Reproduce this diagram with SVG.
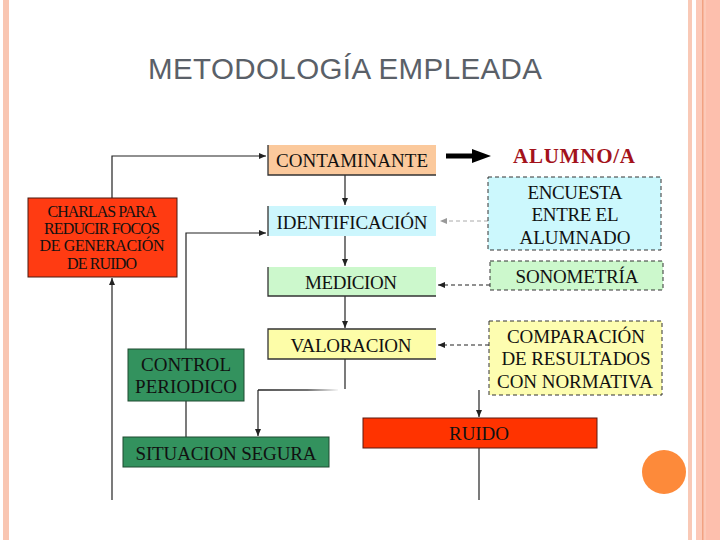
<svg xmlns="http://www.w3.org/2000/svg" width="720" height="540" viewBox="0 0 720 540">
<style>
.t{font-family:"Liberation Serif","Times New Roman",serif;font-size:19px;fill:#111;text-anchor:middle}
.s{font-family:"Liberation Serif","Times New Roman",serif;font-size:16px;fill:#111;text-anchor:middle}
.ln{fill:none;stroke:#222;stroke-width:1.2}
.ds{fill:none;stroke:#222;stroke-width:1.1;stroke-dasharray:4,3}
.edge{fill:none;stroke:#333;stroke-width:1.3}
</style>
<defs>
<marker id="ah" markerWidth="8" markerHeight="8" refX="7" refY="4" orient="auto" markerUnits="userSpaceOnUse">
<path d="M0,1 L7,4 L0,7 z" fill="#222"/>
</marker>
<marker id="ahg" markerWidth="8" markerHeight="8" refX="7" refY="4" orient="auto" markerUnits="userSpaceOnUse">
<path d="M0,1 L7,4 L0,7 z" fill="#999"/>
</marker>
<linearGradient id="fade" gradientUnits="userSpaceOnUse" x1="258" y1="0" x2="340" y2="0">
<stop offset="0" stop-color="#222"/>
<stop offset="0.6" stop-color="#444"/>
<stop offset="1" stop-color="#fff"/>
</linearGradient>
</defs>
<rect width="720" height="540" fill="#fff"/>
<g id="frame">
<rect x="3" y="0" width="6" height="540" fill="#f9c6b2"/>
<rect x="688" y="0" width="4" height="540" fill="#f9c9b6"/>
<rect x="696" y="0" width="24" height="540" fill="#fcc9b8"/>
<rect x="702" y="0" width="1.5" height="540" fill="#f2a282"/>
<rect x="706" y="0" width="14" height="540" fill="#fdbfad"/>
</g>
<text id="title" x="148" y="79" font-family="'Liberation Sans',Arial,sans-serif" font-size="29.5" fill="#5a6068" textLength="394">METODOLOGÍA EMPLEADA</text>
<g id="connectors">
<path class="ln" d="M112,198 V156 H266" marker-end="url(#ah)"/>
<path class="ln" d="M345,175 V205" marker-end="url(#ah)"/>
<path class="ln" d="M345,236 V266" marker-end="url(#ah)"/>
<path class="ln" d="M345,296 V328" marker-end="url(#ah)"/>
<path class="ln" d="M345,359 V389"/>
<path d="M258,390 H338" fill="none" stroke="url(#fade)" stroke-width="1.4"/>
<path class="ln" d="M258,390 V436" marker-end="url(#ah)"/>
<path class="ln" d="M186,349 V233 H266" marker-end="url(#ah)"/>
<path class="ln" d="M186,401 V437"/>
<path class="ln" d="M112,500 V278" marker-end="url(#ah)"/>
<path class="ln" d="M479,390 V417" marker-end="url(#ah)"/>
<path class="ln" d="M479,448 V500"/>
<path fill="none" stroke="#aaa" stroke-width="1" stroke-dasharray="4,3" d="M488,221 H440" marker-end="url(#ahg)"/>
<path class="ds" d="M490,285 H438" marker-end="url(#ah)"/>
<path class="ds" d="M489,345 H438" marker-end="url(#ah)"/>
<path d="M446,156 H474" stroke="#000" stroke-width="5" fill="none"/>
<path d="M472,149 L491,156 L472,163 z" fill="#000"/>
</g>
<g id="contaminante">
<rect x="268" y="145" width="168" height="30" fill="#fbc99c"/>
<path class="edge" d="M268,145 V175 H436"/>
<text class="t" x="352" y="167" textLength="152">CONTAMINANTE</text>
</g>
<g id="alumno">
<text x="574" y="163" font-family="'Liberation Serif','Times New Roman',serif" font-size="21" font-weight="bold" fill="#a3121b" text-anchor="middle" textLength="122">ALUMNO/A</text>
</g>
<g id="identificacion">
<rect x="268" y="206" width="168" height="30" fill="#ccf6fd"/>
<path class="edge" d="M268,206 V236"/>
<text class="t" x="352" y="229" textLength="151">IDENTIFICACIÓN</text>
</g>
<g id="medicion">
<rect x="268" y="267" width="168" height="29" fill="#ccf8cc"/>
<path class="edge" d="M268,267 V296 H436"/>
<text class="t" x="351" y="289" textLength="92">MEDICION</text>
</g>
<g id="valoracion">
<rect x="268" y="329" width="168" height="30" fill="#fdfda8"/>
<path class="edge" d="M436,329 H268 V359 H436"/>
<text class="t" x="351" y="352" textLength="121">VALORACION</text>
</g>
<g id="encuesta">
<rect x="488" y="177" width="173" height="73" fill="#ccf8fd" stroke="#333" stroke-width="1" stroke-dasharray="4,3"/>
<text class="t" x="575" y="199" textLength="95">ENCUESTA</text>
<text class="t" x="575" y="221" textLength="87">ENTRE EL</text>
<text class="t" x="575" y="244" textLength="111">ALUMNADO</text>
</g>
<g id="sonometria">
<rect x="490" y="261" width="173" height="29" fill="#ccf8cc" stroke="#333" stroke-width="1" stroke-dasharray="4,3"/>
<text class="t" x="577" y="283" textLength="123">SONOMETRÍA</text>
</g>
<g id="comparacion">
<rect x="489" y="321" width="173" height="74" fill="#fdfdb0" stroke="#333" stroke-width="1" stroke-dasharray="4,3"/>
<text class="t" x="576" y="343" textLength="138">COMPARACIÓN</text>
<text class="t" x="576" y="365" textLength="149">DE RESULTADOS</text>
<text class="t" x="575" y="388" textLength="156">CON NORMATIVA</text>
</g>
<g id="ruido">
<rect x="363" y="418" width="234" height="30" fill="#ff3300" stroke="#5a1a10" stroke-width="1"/>
<text class="t" x="479" y="440" textLength="60">RUIDO</text>
</g>
<g id="charlas">
<rect x="28" y="198" width="149" height="79" fill="#ff3b12" stroke="#4a1a10" stroke-width="1"/>
<text class="s" x="102" y="217" textLength="109">CHARLAS PARA</text>
<text class="s" x="102" y="234" textLength="116">REDUCIR FOCOS</text>
<text class="s" x="102" y="251" textLength="125">DE GENERACIÓN</text>
<text class="s" x="102" y="269" textLength="70">DE RUIDO</text>
</g>
<g id="control">
<rect x="128" y="349" width="116" height="52" fill="#33925e" stroke="#1e4a30" stroke-width="1"/>
<text class="t" x="186" y="371" textLength="90">CONTROL</text>
<text class="t" x="186" y="393" textLength="102">PERIODICO</text>
</g>
<g id="situacion">
<rect x="123" y="437" width="206" height="30" fill="#33925e" stroke="#1e4a30" stroke-width="1"/>
<text class="t" x="226" y="460" textLength="181">SITUACION SEGURA</text>
</g>
<circle id="dot" cx="664" cy="472" r="22" fill="#fd8a3a"/>
</svg>
